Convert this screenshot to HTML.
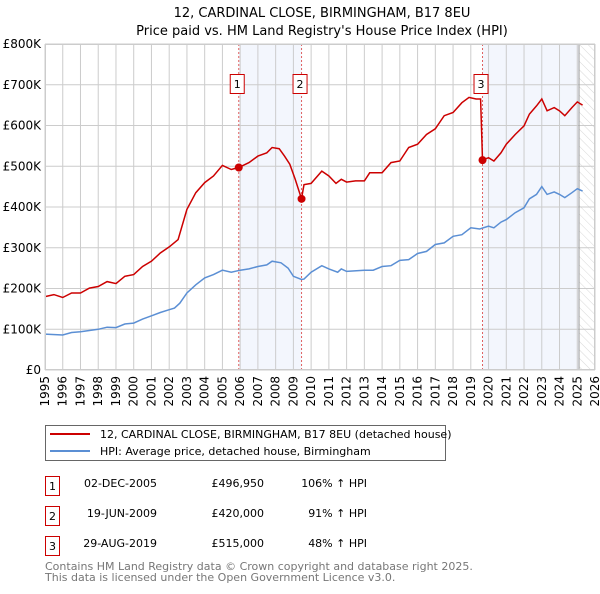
<!DOCTYPE html>
<html><head><meta charset="utf-8"><style>
body{margin:0;background:#fff;font-family:"DejaVu Sans","Liberation Sans",sans-serif;}
svg text{font-family:"DejaVu Sans","Liberation Sans",sans-serif;}
</style></head><body>
<svg id="c" width="600" height="590" viewBox="0 0 600 590" xmlns="http://www.w3.org/2000/svg">
<defs><pattern id="hatch" width="6" height="6" patternUnits="userSpaceOnUse" patternTransform="rotate(-45)"><line x1="0" y1="0" x2="0" y2="6" stroke="#d8d8d8" stroke-width="1"/></pattern></defs>
<text x="322" y="17" font-size="13" text-anchor="middle" fill="#000">12, CARDINAL CLOSE, BIRMINGHAM, B17 8EU</text>
<text x="322" y="35" font-size="13" text-anchor="middle" fill="#000">Price paid vs. HM Land Registry's House Price Index (HPI)</text>
<g id="plot"></g>
<g>
<rect x="45.5" y="425.5" width="400" height="35" fill="#fff" stroke="#666"/>
<line x1="50" y1="434" x2="90" y2="434" stroke="#cc0000" stroke-width="2"/>
<text x="100" y="438" font-size="11">12, CARDINAL CLOSE, BIRMINGHAM, B17 8EU (detached house)</text>
<line x1="50" y1="451" x2="90" y2="451" stroke="#5b8fd4" stroke-width="2"/>
<text x="100" y="455" font-size="11">HPI: Average price, detached house, Birmingham</text>
</g>
<g font-size="11">
<rect x="45.5" y="476.5" width="14" height="19" fill="#fff" stroke="#cc0000"/><text x="52.5" y="490" text-anchor="middle">1</text>
<text x="157" y="487" text-anchor="end">02-DEC-2005</text><text x="264" y="487" text-anchor="end">£496,950</text><text x="367" y="487" text-anchor="end">106% ↑ HPI</text>
<rect x="45.5" y="506.5" width="14" height="19" fill="#fff" stroke="#cc0000"/><text x="52.5" y="520" text-anchor="middle">2</text>
<text x="157" y="517" text-anchor="end">19-JUN-2009</text><text x="264" y="517" text-anchor="end">£420,000</text><text x="367" y="517" text-anchor="end">91% ↑ HPI</text>
<rect x="45.5" y="536.5" width="14" height="19" fill="#fff" stroke="#cc0000"/><text x="52.5" y="550" text-anchor="middle">3</text>
<text x="157" y="547" text-anchor="end">29-AUG-2019</text><text x="264" y="547" text-anchor="end">£515,000</text><text x="367" y="547" text-anchor="end">48% ↑ HPI</text>
</g>
<text x="45" y="570" font-size="11" fill="#777">Contains HM Land Registry data © Crown copyright and database right 2025.</text>
<text x="45" y="581" font-size="11" fill="#777">This data is licensed under the Open Government Licence v3.0.</text>
</svg>
<script>
const redYears=[1995,1995.5,1996,1996.5,1997,1997.5,1998,1998.5,1999,1999.5,2000,2000.5,2001,2001.5,2002,2002.5,2003,2003.5,2004,2004.5,2005,2005.5,2005.92,2006.5,2007,2007.5,2007.8,2008.2,2008.5,2008.8,2009.1,2009.46,2009.6,2010,2010.6,2011,2011.4,2011.7,2012,2012.5,2013,2013.3,2014,2014.5,2015,2015.5,2016,2016.5,2017,2017.5,2018,2018.5,2018.9,2019.3,2019.55,2019.66,2020,2020.3,2020.7,2021,2021.5,2022,2022.3,2022.7,2023,2023.3,2023.7,2024,2024.3,2024.7,2025,2025.3];
const redValues=[180,185,178,189,189,201,205,217,212,230,234,254,267,287,302,320,394,435,460,476,502,492,497,509,525,533,546,543,525,505,468,420,455,458,488,476,458,468,461,464,464,484,484,509,513,546,554,578,592,624,632,656,669,665,665,515,521,513,533,554,578,599,628,648,665,636,644,636,624,644,658,650];
const hpiYears=[1995,1996,1996.5,1997,1998,1998.5,1999,1999.5,2000,2000.5,2001,2001.5,2002,2002.3,2002.6,2003,2003.5,2004,2004.5,2005,2005.5,2006,2006.5,2007,2007.5,2007.8,2008.3,2008.7,2009,2009.46,2009.6,2010,2010.6,2011,2011.5,2011.7,2012,2013,2013.5,2014,2014.5,2015,2015.5,2016,2016.5,2017,2017.5,2018,2018.5,2019,2019.5,2020,2020.3,2020.7,2021,2021.5,2022,2022.3,2022.7,2023,2023.3,2023.7,2024,2024.3,2024.7,2025,2025.3];
const hpiValues=[88,86,92,94,100,105,104,113,115,125,133,141,148,152,164,189,209,226,234,245,240,245,248,254,258,267,263,250,230,222,223,240,256,248,240,248,242,245,245,254,256,269,271,286,291,308,312,328,332,349,346,353,349,363,369,386,398,420,431,450,431,437,431,423,435,445,439];
const saleYears=[2005.92,2009.46,2019.66];
const saleValues=[496.95,420,515];
const saleLabels=["1","2","3"];
const yTicks=[0,100,200,300,400,500,600,700,800];
const yTickLabels=["£0","£100K","£200K","£300K","£400K","£500K","£600K","£700K","£800K"];
const xTicks=[];for(let y=1995;y<=2026;y++)xTicks.push(y);
const X0=45,X1=595,Y0=370,Y1=44;
const sx=v=>X0+(v-1995)/(2026-1995)*(X1-X0);
const sy=v=>Y0-v/800*(Y0-Y1);
const NS="http://www.w3.org/2000/svg";
const g=document.getElementById('plot');
function mk(t,a){const e=document.createElementNS(NS,t);for(const k in a)e.setAttribute(k,a[k]);g.appendChild(e);return e;}
let e;
e=mk('rect',{x:sx(saleYears[0]),y:Y1,width:sx(saleYears[1])-sx(saleYears[0]),height:Y0-Y1,fill:'#f3f6fd'});


e=mk('rect',{x:sx(saleYears[2]),y:Y1,width:sx(2025.1)-sx(saleYears[2]),height:Y0-Y1,fill:'#f3f6fd'});


e=mk('rect',{x:sx(2025.1),y:Y1,width:X1-sx(2025.1),height:Y0-Y1,fill:'url(#hatch)'});


xTicks.forEach(t=>{
 e=mk('line',{x1:sx(t),x2:sx(t),y1:Y1,y2:Y0,stroke:'#ccc','stroke-width':1});
 
 
 e=mk('text',{x:0,y:0,'font-size':12,'text-anchor':'end',transform:`translate(${sx(t)+4},${Y0+6}) rotate(-90)`});
 e.textContent=t;
 
 
});
yTicks.forEach((t,i)=>{
 e=mk('line',{x1:X0,x2:X1,y1:sy(t),y2:sy(t),stroke:'#ccc','stroke-width':1});
 
 
 e=mk('text',{x:X0-4,y:sy(t)+4,'font-size':12,'text-anchor':'end'});
 e.textContent=yTickLabels[i];
 
 
});
e=mk('line',{x1:sx(2025.1),x2:sx(2025.1),y1:Y1,y2:Y0,stroke:'#999','stroke-width':1});


saleYears.forEach((s,i)=>{
 e=mk('line',{x1:sx(s),x2:sx(s),y1:Y1,y2:Y0,stroke:'#e06060','stroke-width':1,'stroke-dasharray':'2,2'});
 
 
});
const path=(xs,ys)=>xs.map((x,i)=>(i?'L':'M')+sx(x).toFixed(1)+','+sy(ys[i]).toFixed(1)).join('');
e=mk('path',{d:path(hpiYears,hpiValues),fill:'none',stroke:'#5b8fd4','stroke-width':1.5});


e=mk('path',{d:path(redYears,redValues),fill:'none',stroke:'#cc0000','stroke-width':1.5});


saleYears.forEach((s,i)=>{
 e=mk('circle',{cx:sx(s),cy:sy(saleValues[i]),r:4,fill:'#cc0000'});
 
 
 e=mk('rect',{x:sx(s)-8.5,y:74.5,width:14,height:19,fill:'#fff',stroke:'#cc0000'});
 
 
 e=mk('text',{x:sx(s)-1.5,y:88,'font-size':11,'text-anchor':'middle'});
 e.textContent=saleLabels[i];
 
 
});
e=mk('rect',{x:X0+0.5,y:Y1+0.5,width:X1-X0-1,height:Y0-Y1-1,fill:'none',stroke:'#ccc'});


</script>
</body></html>
